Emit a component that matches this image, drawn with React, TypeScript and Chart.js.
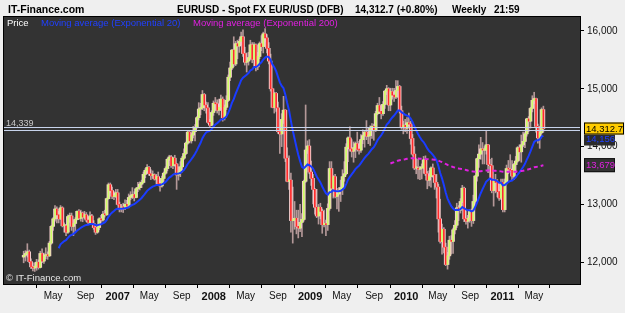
import React, { useEffect, useRef } from "react";
import { Chart, registerables } from "chart.js";

Chart.register(...registerables);

// ---- data (EUR/USD x10000, weekly, weeks starting Monday) ----
const firstWeekStart = "2006-01-09";
const firstOpen = 12090;

const closes = [
  12120, 12150, 12180, 12010, 11920, 11900, 11930, 12000, 11910, 12150,
  12020, 12110, 12130, 12110, 12330, 12620, 12750, 12920, 12820, 12750,
  12940, 12630, 12630, 12520, 12790, 12800, 12620, 12670, 12740, 12880,
  12760, 12850, 12780, 12820, 12730, 12690, 12800, 12670, 12600, 12520,
  12600, 12750, 12730, 12830, 12820, 13100, 13340, 13240, 13140, 13140,
  13200, 13000, 12920, 12950, 12940, 13000, 12970, 13120, 13150, 13170,
  13120, 13270, 13290, 13350, 13380, 13520, 13590, 13640, 13530, 13500,
  13510, 13440, 13480, 13360, 13320, 13450, 13540, 13620, 13780, 13820,
  13670, 13800, 13700, 13510, 13560, 13650, 13800, 13880, 14060, 14250,
  14100, 14200, 14260, 14330, 14500, 14650, 14670, 14900, 14720, 14670,
  14420, 14370, 14590, 14750, 14740, 14630, 14680, 14820, 14500, 14680,
  14800, 15200, 15360, 15670, 15430, 15780, 15740, 15820, 15900, 15610,
  15460, 15480, 15540, 15760, 15510, 15760, 15380, 15560, 15780, 15730,
  15950, 15880, 15700, 15480, 15000, 14680, 14920, 14670, 14260, 14220,
  14470, 14630, 13800, 13400, 13420, 12720, 12730, 12760, 12620, 12590,
  12690, 12740, 13400, 13940, 14010, 13560, 13450, 13260, 12950, 12800,
  12950, 12880, 12650, 12670, 12650, 12930, 13620, 13280, 13480, 13140,
  13180, 13240, 13290, 13480, 13530, 13990, 14150, 13960, 13920, 13980,
  14050, 13950, 13940, 14120, 14190, 14250, 14180, 14190, 14330, 14350,
  14290, 14570, 14710, 14610, 14570, 14730, 14960, 15000, 14720, 14950,
  14890, 14860, 14970, 15040, 14620, 14340, 14370, 14320, 14410, 14390,
  14140, 13870, 13630, 13630, 13610, 13630, 13630, 13770, 13530, 13420,
  13480, 13630, 13510, 13380, 13300, 12750, 12360, 12570, 12260, 11960,
  12110, 12380, 12360, 12560, 12640, 12940, 12900, 13050, 13280, 12750,
  12710, 12760, 12890, 12720, 13050, 13490, 13790, 13870, 13960, 13940,
  13940, 14030, 13690, 13670, 13240, 13400, 13380, 13220, 13110, 13380,
  12910, 13380, 13620, 13610, 13590, 13490, 13690, 13750, 13980, 13910,
  14030, 14090, 14220, 14480, 14440, 14660, 14800, 14830, 14350, 14150,
  14240, 14640, 14312.7,
];

const highs = [
  12190, 12200, 12320, 12210, 12060, 11990, 11990, 12050, 12040, 12190,
  12230, 12160, 12250, 12180, 12360, 12640, 12770, 12980, 12960, 12880,
  12980, 12960, 12680, 12650, 12820, 12850, 12850, 12730, 12770, 12890,
  12910, 12900, 12870, 12880, 12860, 12770, 12870, 12830, 12720, 12630,
  12650, 12770, 12810, 12880, 12900, 13110, 13370, 13370, 13300, 13220,
  13260, 13260, 13040, 13000, 13020, 13080, 13070, 13180, 13220, 13290,
  13220, 13290, 13380, 13390, 13420, 13560, 13620, 13690, 13660, 13600,
  13580, 13530, 13520, 13560, 13390, 13490, 13560, 13650, 13800, 13850,
  13850, 13820, 13850, 13710, 13650, 13740, 13830, 13960, 14080, 14280,
  14270, 14230, 14350, 14380, 14520, 14760, 14750, 14970, 14920, 14770,
  14760, 14470, 14620, 14790, 14850, 14810, 14820, 14890, 14860, 14720,
  14880, 15240, 15460, 15680, 15900, 15820, 15840, 15860, 15980, 16020,
  15720, 15620, 15630, 15840, 15800, 15800, 15780, 15630, 15810, 15920,
  15980, 16040, 15940, 15800, 15600, 15010, 14940, 14940, 14770, 14270,
  14570, 14870, 14640, 13980, 13840, 13540, 13300, 13050, 12900, 12900,
  13000, 12840, 13420, 14720, 14100, 14120, 13750, 13520, 13280, 13260,
  13000, 13020, 12920, 12900, 12730, 13010, 13740, 13740, 13500, 13520,
  13280, 13290, 13420, 13600, 13740, 14050, 14170, 14340, 14120, 14080,
  14080, 14250, 14090, 14210, 14290, 14260, 14450, 14330, 14360, 14400,
  14390, 14610, 14750, 14850, 14730, 14780, 14970, 15060, 15020, 15010,
  15010, 15010, 15140, 15140, 15060, 14700, 14440, 14470, 14500, 14580,
  14440, 14210, 14000, 13790, 13780, 13660, 13700, 13830, 13840, 13570,
  13580, 13650, 13700, 13520, 13520, 13350, 13090, 12660, 12600, 12330,
  12170, 12450, 12460, 12590, 12720, 13020, 12980, 13100, 13330, 13300,
  12900, 12810, 12910, 12920, 13160, 13500, 13800, 14030, 14160, 14070,
  14000, 14280, 14040, 13780, 13800, 13440, 13520, 13430, 13250, 13440,
  13440, 13440, 13680, 13760, 13860, 13760, 13710, 13830, 14000, 14030,
  14200, 14250, 14250, 14490, 14520, 14680, 14880, 14940, 14840, 14390,
  14260, 14670, 14700,
];

const lows = [
  11990, 12020, 12090, 11990, 11890, 11850, 11840, 11860, 11880, 11900,
  11990, 11980, 12060, 12050, 12100, 12310, 12550, 12710, 12680, 12680,
  12740, 12610, 12520, 12460, 12500, 12690, 12550, 12460, 12530, 12730,
  12740, 12710, 12700, 12750, 12700, 12650, 12660, 12650, 12570, 12480,
  12500, 12560, 12690, 12710, 12780, 12810, 13090, 13200, 13100, 13080,
  13120, 12990, 12870, 12870, 12860, 12910, 12940, 12940, 13080, 13100,
  13060, 13110, 13220, 13250, 13290, 13370, 13460, 13550, 13500, 13430,
  13450, 13420, 13360, 13340, 13230, 13300, 13400, 13520, 13580, 13760,
  13640, 13620, 13660, 13260, 13420, 13480, 13560, 13780, 13860, 14040,
  14070, 14060, 14150, 14100, 14320, 14460, 14550, 14640, 14620, 14580,
  14400, 14340, 14360, 14540, 14620, 14580, 14550, 14620, 14440, 14460,
  14640, 14780, 15140, 15330, 15380, 15400, 15520, 15630, 15760, 15560,
  15410, 15290, 15410, 15510, 15450, 15390, 15310, 15330, 15520, 15660,
  15620, 15810, 15620, 15430, 14960, 14670, 14580, 14610, 14230, 13880,
  14000, 14400, 13740, 13390, 13260, 12520, 12330, 12570, 12490, 12420,
  12530, 12440, 12710, 13380, 13880, 13530, 13330, 13010, 12830, 12770,
  12660, 12750, 12500, 12610, 12460, 12550, 12900, 13250, 13110, 13110,
  12920, 12880, 13050, 13170, 13400, 13510, 13740, 13920, 13820, 13730,
  13810, 13920, 13870, 13900, 14050, 13990, 14120, 14050, 14020, 14140,
  14110, 14260, 14550, 14570, 14480, 14540, 14660, 14900, 14620, 14620,
  14820, 14780, 14830, 14850, 14580, 14300, 14220, 14260, 14230, 14360,
  14040, 13850, 13600, 13530, 13440, 13430, 13440, 13540, 13500, 13270,
  13320, 13300, 13470, 13260, 13110, 12520, 12330, 12140, 12160, 11940,
  11880, 12050, 12140, 12150, 12490, 12600, 12720, 12850, 13030, 12700,
  12660, 12590, 12690, 12620, 12670, 12990, 13400, 13640, 13780, 13700,
  13700, 13870, 13550, 13450, 13200, 12970, 13200, 13130, 13070, 13080,
  12870, 12870, 13350, 13530, 13570, 13430, 13430, 13550, 13730, 13760,
  13730, 14000, 13980, 14180, 14260, 14320, 14600, 14740, 14250, 14060,
  13970, 14220, 14250,
];

const tickDates = [
  "2006-05-01", "2006-09-01", "2007-01-01", "2007-05-01", "2007-09-01",
  "2008-01-01", "2008-05-01", "2008-09-01", "2009-01-01", "2009-05-01",
  "2009-09-01", "2010-01-01", "2010-05-01", "2010-09-01", "2011-01-01",
  "2011-05-01",
];
const tickLabels = [
  "May", "Sep", "2007", "May", "Sep", "2008", "May", "Sep", "2009", "May",
  "Sep", "2010", "May", "Sep", "2011", "May",
];
const yTicks = [12000, 13000, 14000, 15000, 16000];

const lastPriceLabel = "14,312.7";
const changeLabel = "(+0.80%)";
const ema20Label = 14156;
const ema200Label = 13679;
const lineLevel = 14339;

// ---- helpers ----
const WEEK = 7 * 864e5;
const EPOCH = Date.UTC(2007, 0, 1);
const weeksOf = (s: string) => (Date.parse(s + "T00:00:00Z") - EPOCH) / WEEK;

function ema(values: number[], n: number): (number | null)[] {
  const k = 2 / (n + 1);
  const out: (number | null)[] = [];
  let prev = 0;
  for (let i = 0; i < values.length; i++) {
    if (i < n - 1) out.push(null);
    else if (i === n - 1) {
      let s = 0;
      for (let j = 0; j < n; j++) s += values[j];
      prev = s / n;
      out.push(prev);
    } else {
      prev = values[i] * k + prev * (1 - k);
      out.push(prev);
    }
  }
  return out;
}

const FONT = "Arial, 'Liberation Sans', sans-serif";
const fmt = (v: number) => v.toLocaleString("en-US");

export default function App() {
  const ref = useRef<HTMLCanvasElement | null>(null);

  useEffect(() => {
    document.body.style.margin = "0";
    const canvas = ref.current!;
    const x0 = weeksOf(firstWeekStart);
    const xs = closes.map((_, i) => x0 + i);
    const opens = closes.map((c, i) => (i === 0 ? firstOpen : closes[i - 1]));
    const up = closes.map((c, i) => c >= opens[i]);
    const e20 = ema(closes, 20);
    const e200 = ema(closes, 200);
    const e20pts = xs.map((x, i) => ({ x, y: e20[i] })).filter((p) => p.y !== null);
    const e200pts = xs.map((x, i) => ({ x, y: e200[i] })).filter((p) => p.y !== null);
    const tickPos = tickDates.map(weeksOf);
    const isYear = tickLabels.map((l) => /^\d{4}$/.test(l));

    const overlay = {
      id: "overlay",
      beforeDraw(chart: any) {
        const { ctx, chartArea: a, width, height } = chart;
        ctx.save();
        ctx.fillStyle = "#efefef";
        ctx.fillRect(0, 0, width, height);
        ctx.fillStyle = "#333333";
        ctx.fillRect(a.left, a.top, a.right - a.left, a.bottom - a.top);
        ctx.restore();
      },
      afterDatasetsDraw(chart: any) {
        const { ctx, chartArea: a, scales } = chart;
        const y = scales.y;
        ctx.save();
        // horizontal double line
        const ly = Math.round(y.getPixelForValue(lineLevel)) + 0.5;
        ctx.strokeStyle = "#c8d4ec";
        ctx.lineWidth = 1;
        ctx.beginPath();
        ctx.moveTo(a.left, ly);
        ctx.lineTo(a.right, ly);
        ctx.moveTo(a.left, ly + 3);
        ctx.lineTo(a.right, ly + 3);
        ctx.stroke();
        ctx.font = `9px ${FONT}`;
        ctx.fillStyle = "#c8c8c8";
        ctx.textBaseline = "alphabetic";
        ctx.fillText(fmt(lineLevel), a.left + 2, ly - 2);
        // legend
        ctx.font = `9.5px ${FONT}`;
        ctx.fillStyle = "#ffffff";
        ctx.fillText("Price", a.left + 3, a.top + 9);
        ctx.fillStyle = "#2040ff";
        ctx.fillText("Moving average (Exponential 20)", a.left + 37, a.top + 9);
        ctx.fillStyle = "#e020e0";
        ctx.fillText("Moving average (Exponential 200)", a.left + 189, a.top + 9);
        // copyright
        ctx.fillStyle = "#e8e8e8";
        ctx.fillText("\u00A9 IT-Finance.com", a.left + 2, a.bottom - 3);
        // border
        ctx.strokeStyle = "#000000";
        ctx.strokeRect(a.left - 0.5, a.top - 0.5, a.right - a.left + 1, a.bottom - a.top + 1);
        ctx.restore();
      },
      afterDraw(chart: any) {
        const { ctx, chartArea: a, scales } = chart;
        const y = scales.y;
        ctx.save();
        // header
        ctx.fillStyle = "#000000";
        ctx.textBaseline = "alphabetic";
        ctx.font = `bold 10.5px ${FONT}`;
        ctx.fillText("IT-Finance.com", 8, 12.5);
        ctx.font = `bold 10px ${FONT}`;
        ctx.fillText("EURUSD - Spot FX EUR/USD (DFB)", 177, 12.5);
        ctx.fillText(`${lastPriceLabel} ${changeLabel}`, 355, 12.5);
        ctx.fillText("Weekly", 452, 12.5);
        ctx.fillText("21:59", 494, 12.5);
        // right labels
        ctx.font = `9.5px ${FONT}`;
        ctx.textBaseline = "middle";
        const bx = a.right + 4;
        const pl = y.getPixelForValue(closes[closes.length - 1]);
        const p20 = Math.max(y.getPixelForValue(ema20Label), pl + 11);
        ctx.fillStyle = "#2b2b2b";
        ctx.fillRect(bx, p20 - 5, 31, 11);
        ctx.fillStyle = "#2040ff";
        ctx.fillText(fmt(ema20Label), bx + 2, p20);
        const p200 = y.getPixelForValue(ema200Label);
        ctx.fillStyle = "#333333";
        ctx.fillRect(bx, p200 - 7, 31, 14);
        ctx.strokeStyle = "#111111";
        ctx.strokeRect(bx + 0.5, p200 - 6.5, 30, 13);
        ctx.fillStyle = "#e020e0";
        ctx.fillText(fmt(ema200Label), bx + 2, p200);
        ctx.fillStyle = "#ffcc00";
        ctx.fillRect(bx, pl - 6, 40, 12);
        ctx.strokeStyle = "#000000";
        ctx.strokeRect(bx + 0.5, pl - 5.5, 39, 11);
        ctx.fillStyle = "#000000";
        ctx.fillText(lastPriceLabel, bx + 2, pl + 0.5);
        ctx.restore();
      },
    };

    const body = xs.map((x, i) => ({ x, y: [opens[i], closes[i]] }));

    const chart = new Chart(canvas, {
      type: "bar",
      data: {
        datasets: [
          {
            type: "line",
            label: "EMA200",
            data: e200pts as any,
            borderColor: "#e020e0",
            borderWidth: 2,
            borderDash: [4, 3],
            pointRadius: 0,
            order: 0,
          },
          {
            type: "line",
            label: "EMA20",
            data: e20pts as any,
            borderColor: "#1a3cff",
            borderWidth: 2,
            pointRadius: 0,
            order: 1,
          },
          {
            type: "bar",
            label: "body",
            data: body as any,
            backgroundColor: up.map((u) => (u ? "#ccff66" : "#ff2a2a")),
            barThickness: 1,
            grouped: false,
            minBarLength: 1,
            order: 2,
          },
          {
            type: "bar",
            label: "bodyEdge",
            data: body as any,
            backgroundColor: "#f4cccc",
            barThickness: 3,
            grouped: false,
            minBarLength: 1,
            order: 3,
          },
          {
            type: "bar",
            label: "wick",
            data: xs.map((x, i) => ({ x, y: [lows[i], highs[i]] })) as any,
            backgroundColor: "#b49898",
            barThickness: 1,
            grouped: false,
            order: 4,
          },
        ],
      },
      options: {
        responsive: false,
        animation: false,
        events: [],
        layout: { padding: { left: 4, top: 17, right: 0, bottom: 0 } },
        plugins: { legend: { display: false }, tooltip: { enabled: false } },
        scales: {
          x: {
            type: "linear",
            position: "bottom",
            min: -51.9,
            max: 241.1,
            afterBuildTicks: (s: any) => {
              s.ticks = tickPos.map((v) => ({ value: v }));
            },
            afterFit: (s: any) => {
              s.height = 29;
            },
            ticks: {
              autoSkip: false,
              maxRotation: 0,
              padding: 2,
              color: "#111111",
              callback: (_v: any, idx: number) => tickLabels[idx],
              font: (c: any) =>
                isYear[c.index]
                  ? { family: FONT, size: 11, weight: "bold" }
                  : { family: FONT, size: 10, weight: "normal" },
            },
            grid: { drawOnChartArea: false, tickLength: 4, color: "#000000" },
            border: { display: false },
          },
          y: {
            type: "linear",
            position: "right",
            min: 11623,
            max: 16242,
            afterBuildTicks: (s: any) => {
              s.ticks = yTicks.map((v) => ({ value: v }));
            },
            afterFit: (s: any) => {
              s.width = 45;
            },
            ticks: {
              padding: 3,
              color: "#111111",
              font: { family: FONT, size: 10 },
              callback: (v: any) => fmt(Number(v)),
            },
            grid: { drawOnChartArea: false, tickLength: 4, color: "#000000" },
            border: { display: false },
          },
        },
      },
      plugins: [overlay],
    } as any);

    return () => chart.destroy();
  }, []);

  return <canvas ref={ref} width={625} height={313} style={{ display: "block" }} />;
}
